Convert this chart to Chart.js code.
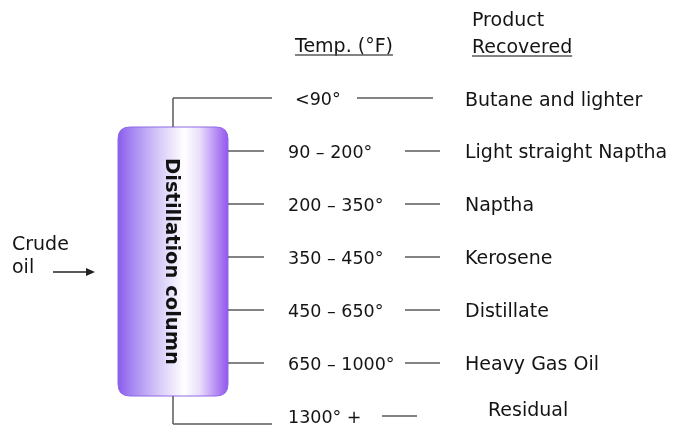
<!DOCTYPE html>
<html>
<head>
<meta charset="utf-8">
<script src="https://cdn.jsdelivr.net/npm/chart.js@4"></script>
<style>
  html, body { margin: 0; padding: 0; background: #ffffff; }
  #wrap { width: 674px; height: 435px; }
</style>
</head>
<body>
<div id="wrap"><canvas id="c" width="674" height="435"></canvas></div>
<script>
// ---- data ----
const tempRanges = ['<90°', '90 – 200°', '200 – 350°', '350 – 450°', '450 – 650°', '650 – 1000°', '1300° +'];
const products = ['Butane and lighter', 'Light straight Naptha', 'Naptha', 'Kerosene', 'Distillate', 'Heavy Gas Oil', 'Residual'];
const tempHeader = 'Temp. (°F)';
const productHeader = ['Product', 'Recovered'];
const feedLabel = ['Crude', 'oil'];
const columnLabel = 'Distillation column';

// ---- layout / style (not data) ----
const FONT = '19px "DejaVu Sans"';
const TEMP_FONT = '17.5px "DejaVu Sans"';
const BOLD = 'bold 19.5px "DejaVu Sans"';
const TEXT = '#141414';
const LINE = '#5a5a5a';
const L = {
  col: { left: 118, right: 228, top: 127, bottom: 396, r: 12 },
  stemX: 173,
  tempX: 288, firstTempX: 295,
  productX: 465, lastProductX: 488,
  leftEnd: 264, stemEnd: 272,
  rightSeg: [405, 440], firstRightSeg: [357, 433], lastRightSeg: [382, 417]
};

function text(ctx, s, x, cy, font, color) {
  ctx.font = font || FONT;
  ctx.fillStyle = color || TEXT;
  ctx.textAlign = 'left';
  ctx.textBaseline = 'alphabetic';
  ctx.fillText(s, x, cy + 7);
  return ctx.measureText(s).width;
}
function seg(ctx, x1, y1, x2, y2) {
  ctx.beginPath();
  ctx.moveTo(x1, y1);
  ctx.lineTo(x2, y2);
  ctx.stroke();
}
function roundRect(ctx, x, y, w, h, r) {
  ctx.beginPath();
  ctx.moveTo(x + r, y);
  ctx.lineTo(x + w - r, y);
  ctx.quadraticCurveTo(x + w, y, x + w, y + r);
  ctx.lineTo(x + w, y + h - r);
  ctx.quadraticCurveTo(x + w, y + h, x + w - r, y + h);
  ctx.lineTo(x + r, y + h);
  ctx.quadraticCurveTo(x, y + h, x, y + h - r);
  ctx.lineTo(x, y + r);
  ctx.quadraticCurveTo(x, y, x + r, y);
  ctx.closePath();
}

const diagram = {
  id: 'diagram',
  afterDraw(chart) {
    const ctx = chart.ctx;
    const ys = chart.scales.y, xs = chart.scales.x;
    const X = v => xs.getPixelForValue(v);
    const n = tempRanges.length;
    ctx.save();

    // column body
    const c = L.col;
    const g = ctx.createLinearGradient(X(c.left), 0, X(c.right), 0);
    g.addColorStop(0, '#8a5cec');
    g.addColorStop(0.12, '#a585f2');
    g.addColorStop(0.38, '#d8ccf9');
    g.addColorStop(0.6, '#ffffff');
    g.addColorStop(0.74, '#eadffb');
    g.addColorStop(0.9, '#b489f4');
    g.addColorStop(1, '#9457ee');
    roundRect(ctx, X(c.left), c.top, X(c.right) - X(c.left), c.bottom - c.top, c.r);
    ctx.fillStyle = g;
    ctx.fill();
    ctx.strokeStyle = '#8d6ae6';
    ctx.lineWidth = 1;
    ctx.stroke();

    // column label (rotated, reading top to bottom)
    ctx.save();
    ctx.font = BOLD;
    const w = ctx.measureText(columnLabel).width;
    ctx.translate(X((c.left + c.right) / 2) - 2, (c.top + c.bottom) / 2);
    ctx.rotate(Math.PI / 2);
    ctx.fillStyle = '#111';
    ctx.textBaseline = 'middle';
    ctx.fillText(columnLabel, -w / 2, 0);
    ctx.restore();

    ctx.lineWidth = 1.5;
    ctx.strokeStyle = LINE;

    // headers
    const hw = text(ctx, tempHeader, X(L.firstTempX), 45);
    seg(ctx, X(L.firstTempX), 55, X(L.firstTempX) + hw, 55);
    text(ctx, productHeader[0], X(472), 19);
    const pw = text(ctx, productHeader[1], X(472), 46);
    seg(ctx, X(472), 56, X(472) + pw, 56);

    // rows
    for (let i = 0; i < n; i++) {
      const y = ys.getPixelForValue(i);
      if (i === 0) {
        seg(ctx, X(L.stemX), c.top, X(L.stemX), y);
        seg(ctx, X(L.stemX), y, X(L.stemEnd), y);
        text(ctx, tempRanges[i], X(L.firstTempX), y, TEMP_FONT);
        seg(ctx, X(L.firstRightSeg[0]), y, X(L.firstRightSeg[1]), y);
        text(ctx, products[i], X(L.productX), y + 1);
      } else if (i === n - 1) {
        const ly = y + 8;
        seg(ctx, X(L.stemX), c.bottom, X(L.stemX), ly);
        seg(ctx, X(L.stemX), ly, X(L.stemEnd), ly);
        text(ctx, tempRanges[i], X(L.tempX), y, TEMP_FONT);
        seg(ctx, X(L.lastRightSeg[0]), y, X(L.lastRightSeg[1]), y);
        text(ctx, products[i], X(L.lastProductX), y - 7);
      } else {
        seg(ctx, X(c.right), y, X(L.leftEnd), y);
        text(ctx, tempRanges[i], X(L.tempX), y, TEMP_FONT);
        seg(ctx, X(L.rightSeg[0]), y, X(L.rightSeg[1]), y);
        text(ctx, products[i], X(L.productX), y);
      }
    }

    // feed
    text(ctx, feedLabel[0], X(12), 243);
    text(ctx, feedLabel[1], X(12), 266);
    ctx.strokeStyle = '#222';
    ctx.lineWidth = 1.5;
    seg(ctx, X(53), 272, X(89), 272);
    ctx.fillStyle = '#222';
    ctx.beginPath();
    ctx.moveTo(X(95), 272);
    ctx.lineTo(X(86), 268);
    ctx.lineTo(X(86), 276);
    ctx.closePath();
    ctx.fill();
    ctx.restore();
  }
};

new Chart(document.getElementById('c'), {
  type: 'scatter',
  data: { datasets: [{ data: [], pointRadius: 0 }] },
  options: {
    responsive: false,
    animation: false,
    devicePixelRatio: 1,
    layout: { padding: { top: 98, bottom: 19, left: 0, right: 0 } },
    plugins: { legend: { display: false }, tooltip: { enabled: false } },
    scales: {
      x: { type: 'linear', min: 0, max: 674, display: false },
      y: { type: 'category', labels: tempRanges, offset: false, display: false }
    }
  },
  plugins: [diagram]
});
</script>
</body>
</html>
